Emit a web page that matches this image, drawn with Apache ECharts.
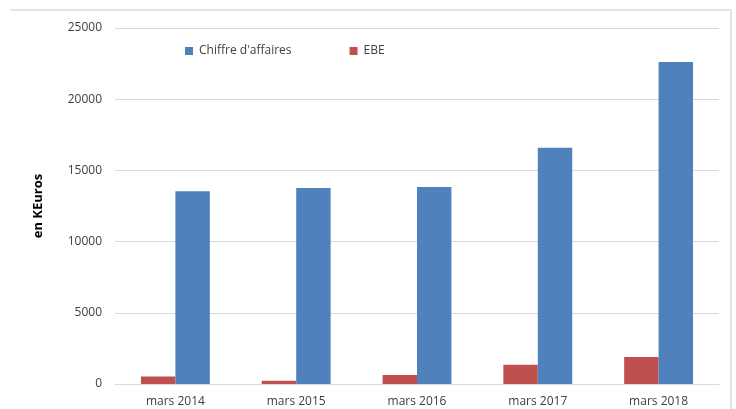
<!DOCTYPE html>
<html>
<head>
<meta charset="utf-8">
<script src="https://cdn.jsdelivr.net/npm/echarts@6/dist/echarts.min.js"></script>
<style>
  html, body { margin: 0; padding: 0; background: #fff; }
  #chart { width: 736px; height: 409px; }
</style>
</head>
<body>
<div id="chart"></div>
<script>
const categories = ["mars 2014", "mars 2015", "mars 2016", "mars 2017", "mars 2018"];
const chiffreAffaires = [13530, 13760, 13830, 16590, 22610];
const ebe = [530, 230, 630, 1350, 1890];

const chart = echarts.init(document.getElementById("chart"));
const font = "'Open Sans', Arial, sans-serif";

chart.setOption({
  animation: false,
  textStyle: { fontFamily: font },
  graphic: [
    {
      type: "polyline",
      shape: { points: [[10, 10], [731, 10], [731, 409]] },
      style: { stroke: "#e3e3e3", lineWidth: 2, fill: null },
    },
  ],
  legend: {
    left: 180,
    top: 40,
    itemWidth: 8,
    itemHeight: 8,
    itemGap: 58,
    icon: "rect",
    data: ["Chiffre d'affaires", "EBE"],
    textStyle: { fontSize: 12, color: "#404040", fontFamily: font, padding: [0, 0, 0, 1] },
  },
  grid: { left: 115, right: 17, top: 28, bottom: 25 },
  xAxis: {
    type: "category",
    data: categories,
    axisLine: { show: true, lineStyle: { color: "#d9d9d9", width: 1 } },
    axisTick: { show: false },
    axisLabel: { color: "#404040", fontSize: 12, margin: 12, fontFamily: font },
  },
  yAxis: {
    type: "value",
    min: 0,
    max: 25000,
    interval: 5000,
    name: "en KEuros",
    nameLocation: "middle",
    nameRotate: 90,
    nameGap: 70,
    nameTextStyle: { color: "#000", fontWeight: "bold", fontSize: 13, fontFamily: font },
    axisLine: { show: false },
    axisTick: { show: false },
    axisLabel: {
      color: "#404040",
      fontSize: 12,
      margin: 13,
      fontFamily: font,
      formatter: (v) => String(v),
    },
    splitLine: { lineStyle: { color: "#d9d9d9", width: 1 } },
  },
  series: [
    {
      name: "EBE",
      type: "bar",
      data: ebe,
      barGap: "0%",
      barCategoryGap: "43%",
      itemStyle: { color: "#c0504d" },
    },
    {
      name: "Chiffre d'affaires",
      type: "bar",
      data: chiffreAffaires,
      barGap: "0%",
      barCategoryGap: "43%",
      itemStyle: { color: "#4f81bd" },
    },
  ],
});
</script>
</body>
</html>
